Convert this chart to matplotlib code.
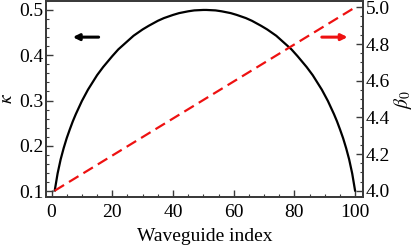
import matplotlib
matplotlib.use("Agg")
import matplotlib.pyplot as plt
from matplotlib.ticker import MultipleLocator

# Data
kappa_index = [1, 2, 3, 4, 5, 6, 7, 8, 10, 12, 15, 17, 20, 22, 25, 27, 30, 32, 35, 37, 40, 42, 45, 47, 50,
               51, 54, 56, 59, 61, 64, 66, 69, 71, 74, 76, 79, 81, 84, 86, 89, 91, 93, 94, 95, 96, 97, 98, 99, 100]
kappa_vals = [0.099, 0.139, 0.170, 0.195, 0.217, 0.236, 0.254, 0.270, 0.299, 0.324, 0.356, 0.374, 0.398,
              0.413, 0.431, 0.443, 0.457, 0.465, 0.476, 0.482, 0.489, 0.493, 0.497, 0.499, 0.500,
              0.500, 0.499, 0.497, 0.493, 0.489, 0.482, 0.476, 0.465, 0.457, 0.443, 0.431, 0.413,
              0.398, 0.374, 0.356, 0.324, 0.299, 0.270, 0.254, 0.236, 0.217, 0.195, 0.170, 0.139, 0.099]
beta_index = [1, 100]
beta_vals = [4.0, 5.0]

plt.rcParams['font.family'] = ['Liberation Serif', 'DejaVu Serif']
plt.rcParams['mathtext.fontset'] = 'stix'
fs = 14
frame_col = '#3a3a3a'

fig = plt.figure(figsize=(4.15, 2.47), dpi=100)
ax = fig.add_axes([0.111, 0.2024, 0.764, 0.794])
ax2 = ax.twinx()

ax.plot(kappa_index, kappa_vals, color='black', lw=1.6, solid_capstyle='butt', solid_joinstyle='round')
ax2.plot(beta_index, beta_vals, color='#ee1111', lw=1.6, dashes=(5, 2.6))

ax.set_xlim(-1.8, 102.6)
ax.set_ylim(0.087, 0.52)
ax2.set_ylim(3.966, 5.035)

ax.xaxis.set_major_locator(MultipleLocator(20))
ax.xaxis.set_minor_locator(MultipleLocator(5))
ax.yaxis.set_major_locator(MultipleLocator(0.1))
ax.yaxis.set_minor_locator(MultipleLocator(0.02))
ax2.yaxis.set_major_locator(MultipleLocator(0.2))
ax2.yaxis.set_minor_locator(MultipleLocator(0.05))

for a in (ax, ax2):
    for s in a.spines.values():
        s.set_color(frame_col)
        s.set_linewidth(1.3)
ax.tick_params(axis='x', which='both', direction='in', top=False, labelsize=fs, color=frame_col, pad=5)
ax.tick_params(axis='y', which='both', direction='in', right=False, labelsize=fs, color=frame_col, pad=2)
ax2.tick_params(axis='y', which='both', direction='in', labelsize=fs, color=frame_col, pad=2)
for a in (ax, ax2):
    a.tick_params(which='major', length=5, width=1)
    a.tick_params(which='minor', length=2.5, width=0.8)

ax.yaxis.set_major_formatter(plt.FuncFormatter(lambda v, p: f"{v:.1f}"))
ax2.yaxis.set_major_formatter(plt.FuncFormatter(lambda v, p: f"{v:.1f}"))

ax.set_xlabel('Waveguide index', fontsize=fs, labelpad=5)
ax.set_ylabel(r'$\kappa$', fontsize=fs, labelpad=2)
ax2.set_ylabel(r'$\beta_0$', fontsize=fs, labelpad=1)

ax.annotate('', xy=(7, 0.44), xytext=(15.5, 0.44),
            arrowprops=dict(arrowstyle='-|>', color='black', lw=2.2,
                            mutation_scale=9, shrinkA=0, shrinkB=0))
ax.annotate('', xy=(97.5, 0.44), xytext=(89, 0.44),
            arrowprops=dict(arrowstyle='-|>', color='#ee1111', lw=2.2,
                            mutation_scale=9, shrinkA=0, shrinkB=0))

fig.savefig('out.png', dpi=100)
